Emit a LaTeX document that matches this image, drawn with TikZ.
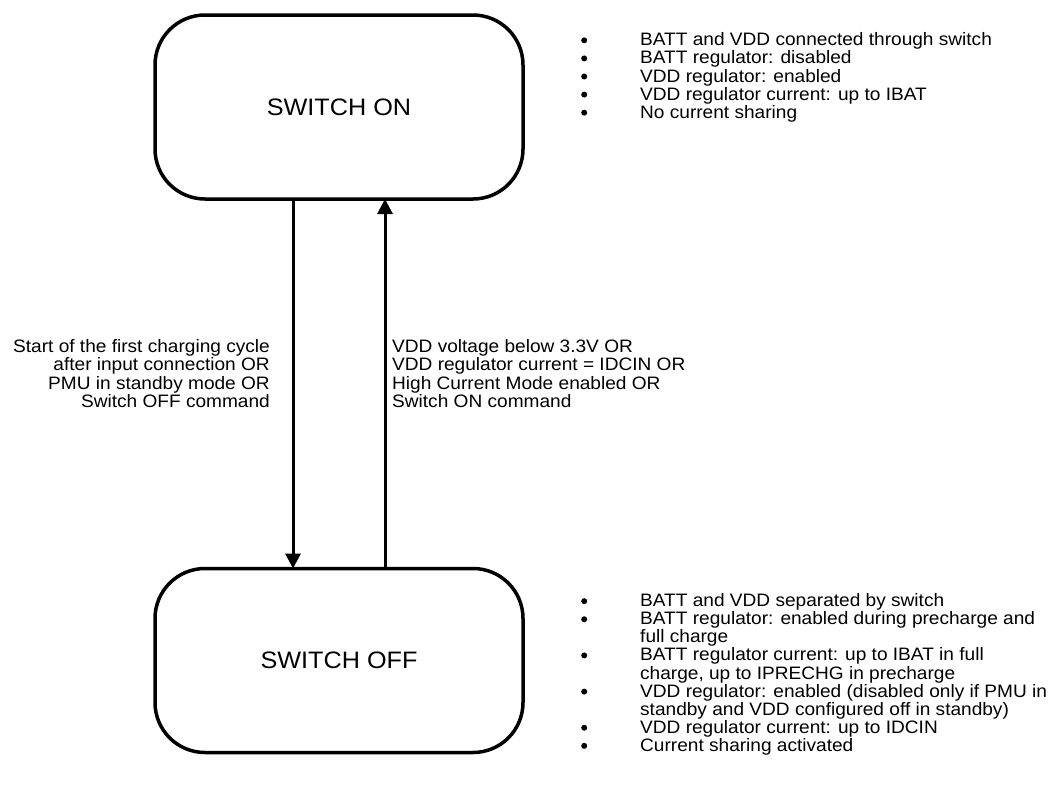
\documentclass[tikz,border=0pt]{standalone}
\usepackage{fontspec}
\setmainfont{Liberation Sans}[FakeStretch=1.06]
\usetikzlibrary{arrows.meta}
\newcommand{\bigbul}{\tikz[x=1pt,y=1pt,baseline=-5.5pt]\fill (0,0) circle (3pt);}
\begin{document}
\begin{tikzpicture}[x=1pt,y=-1pt,
  state/.style={draw, line width=3.5pt, rounded corners=50pt,
    minimum width=368pt, minimum height=184pt, outer sep=0pt, inner sep=0pt,
    font=\fontsize{23.8}{28}\selectfont},
  trans/.style={line width=3pt, -{Triangle[length=15pt,width=15pt]}},
  lbl/.style={inner sep=0pt, font=\fontsize{18}{16.8}\selectfont}]
\useasboundingbox[fill=white] (0,0) rectangle (1052,787);
\node[state] (on) at (339,107) {SWITCH ON};
\node[state] (off) at (339,660.5) {SWITCH OFF};
\draw[trans] ([xshift=-46pt]on.south) -- ([xshift=-46pt]off.north);
\draw[trans] ([xshift=46pt]off.north) -- ([xshift=46pt]on.south);
\node[lbl, anchor=east] (condoff) at (270,376) {\begin{tabular}{@{}r@{}}
Start of the first charging cycle\\
after input connection OR\\
PMU in standby mode OR\\
Switch OFF command\end{tabular}};
\node[lbl, anchor=west] (condon) at (392,376) {\begin{tabular}{@{}l@{}}
VDD voltage below 3.3V OR\\
VDD regulator current = IDCIN OR\\
High Current Mode enabled OR\\
Switch ON command\end{tabular}};
\node[lbl, anchor=west] (onlist) at (581,78) {\begin{tabular}{@{}c@{\hspace{53pt}}l@{}}
\bigbul & BATT and VDD connected through switch\\
\bigbul & BATT regulator: disabled\\
\bigbul & VDD regulator: enabled\\
\bigbul & VDD regulator current: up to IBAT\\
\bigbul & No current sharing\end{tabular}};
\node[lbl, anchor=west] (offlist) at (581,675) {\begin{tabular}{@{}c@{\hspace{53pt}}l@{}}
\bigbul & BATT and VDD separated by switch\\
\bigbul & BATT regulator: enabled during precharge and\\
 & full charge\\
\bigbul & BATT regulator current: up to IBAT in full\\
 & charge, up to IPRECHG in precharge\\
\bigbul & VDD regulator: enabled (disabled only if PMU in\\
 & standby and VDD configured off in standby)\\
\bigbul & VDD regulator current: up to IDCIN\\
\bigbul & Current sharing activated\end{tabular}};
\end{tikzpicture}
\end{document}
